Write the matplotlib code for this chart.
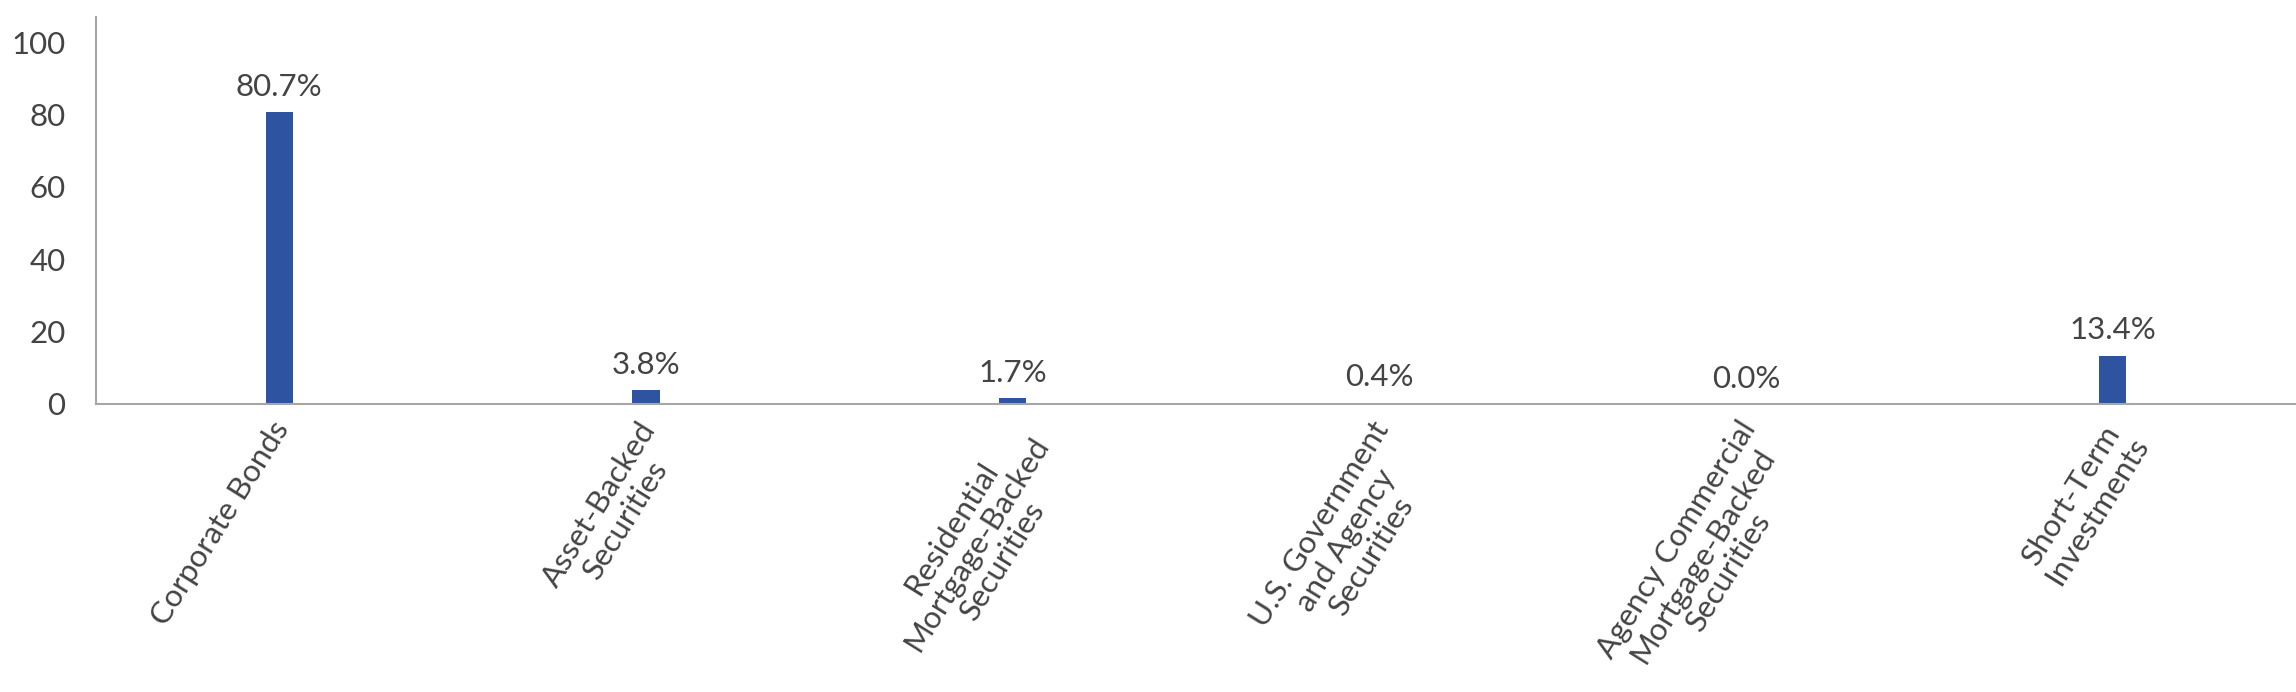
import numpy as np
import matplotlib.pyplot as plt
from matplotlib.transforms import ScaledTranslation

# 데이터
categories = [
	'Corporate Bonds',
	'Asset-Backed\nSecurities',
	'Residential\nMortgage-Backed\nSecurities',
	'U.S. Government\nand Agency\nSecurities',
	'Agency Commercial\nMortgage-Backed\nSecurities',
	'Short-Term\nInvestments',
]
values = [80.7, 3.8, 1.7, 0.4, 0.0, 13.4]
y_ticks = [0, 20, 40, 60, 80, 100]

bar_color = '#2E54A1'
text_color = '#444444'
spine_color = '#A6A6A6'

plt.rcParams['font.family'] = ['Lato', 'DejaVu Sans']
plt.rcParams['font.size'] = 22

fig = plt.figure(figsize=(22.96, 6.92), dpi=100)
ax = fig.add_axes([0.0418, 0.4162, 0.9582, 0.5592])

x = np.arange(len(categories))
bars = ax.bar(x, values, width=0.074, color=bar_color)

for xi, v in zip(x, values):
	ax.annotate(f'{v:.1f}%', (xi, v), xytext=(0, 8), textcoords='offset points',
				ha='center', va='bottom', color=text_color, fontsize=22.5)

ax.set_xlim(-0.5, 5.5)
ax.set_ylim(0, 107)
ax.set_yticks(y_ticks)
ax.set_xticks(x)
ax.set_xticklabels(categories, rotation=58, ha='right', va='top',
				   rotation_mode='anchor', multialignment='center',
				   linespacing=1.1)

ax.tick_params(axis='y', length=0, pad=22, colors=text_color, labelsize=22.5)
ax.tick_params(axis='x', length=0, pad=9, colors=text_color, labelsize=22.5)

# x축 라벨을 살짝 왼쪽으로 이동
shift = ScaledTranslation(-6 / 72, 0, fig.dpi_scale_trans)
for lbl in ax.get_xticklabels():
	lbl.set_transform(lbl.get_transform() + shift)

for side in ['top', 'right']:
	ax.spines[side].set_visible(False)
for side in ['left', 'bottom']:
	ax.spines[side].set_color(spine_color)
	ax.spines[side].set_linewidth(1.5)

fig.savefig('out.png', dpi=100)
